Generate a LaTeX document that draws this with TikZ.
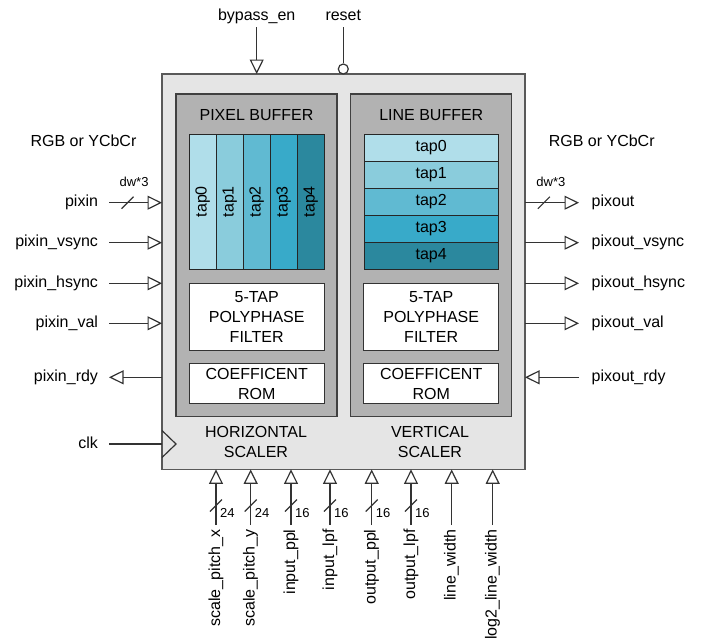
\documentclass[tikz,border=0pt]{standalone}
\usepackage{fontspec}
\setmainfont{Liberation Sans}
\usetikzlibrary{arrows.meta,positioning,calc}

\definecolor{tapzero}{RGB}{176,222,234}
\definecolor{tapone}{RGB}{138,204,220}
\definecolor{taptwo}{RGB}{96,186,210}
\definecolor{tapthree}{RGB}{56,170,201}
\definecolor{tapfour}{RGB}{43,136,158}

\begin{document}
\begin{tikzpicture}[
    x=1pt, y=-1pt,
    font=\fontsize{16}{20}\selectfont,
    outerbox/.style={rectangle, draw=black!65, line width=1.4pt, fill=black!10, minimum width=363pt, minimum height=395.4pt, outer sep=0pt},
    bufbox/.style={rectangle, draw=black!75, line width=1.2pt, fill=black!30, minimum width=161pt, minimum height=322.7pt},
    tapcell/.style={rectangle, draw=black!85, line width=0.8pt, minimum width=134.5pt, minimum height=27pt, inner sep=0pt},
    blk/.style={rectangle, draw=black!80, line width=1pt, fill=white, minimum width=134.7pt, align=center, inner sep=0pt},
    lbl/.style={inner sep=0pt, text height=11.5pt, text depth=3.5pt},
    lftlbl/.style={lbl, anchor=east, outer xsep=11pt},
    rgtlbl/.style={lbl, anchor=west, outer xsep=12.7pt},
    botlbl/.style={lbl, rotate=90, anchor=east, outer xsep=4.5pt},
    smlbl/.style={inner sep=0pt, font=\fontsize{13}{15}\selectfont},
    sig/.style={draw=black!80, line width=1.2pt},
    arr/.style={sig, -{Triangle[open, length=14.5pt, width=14pt]}}
]
\useasboundingbox (0,0) rectangle (701,640);

% Scaler block and its two halves
\node[outerbox] (core) at (343.5,271.7) {};
\node[bufbox] (hbuf) at (256.5,255.3) {};
\node[bufbox] (vbuf) at (431.3,255.3) {};
\node (hbuftitle) at (256.5,115) {PIXEL BUFFER};
\node (vbuftitle) at (431.3,115) {LINE BUFFER};

% Pixel buffer taps (columns)
\node[tapcell, rotate=90, fill=tapzero] (htap0) at (202.8,201.7) {tap0};
\node[tapcell, rotate=90, fill=tapone] (htap1) at (229.8,201.7) {tap1};
\node[tapcell, rotate=90, fill=taptwo] (htap2) at (256.8,201.7) {tap2};
\node[tapcell, rotate=90, fill=tapthree] (htap3) at (283.8,201.7) {tap3};
\node[tapcell, rotate=90, fill=tapfour] (htap4) at (310.8,201.7) {tap4};

% Line buffer taps (rows)
\node[tapcell, fill=tapzero] (vtap0) at (431.2,147.8) {tap0};
\node[tapcell, fill=tapone] (vtap1) at (431.2,174.8) {tap1};
\node[tapcell, fill=taptwo] (vtap2) at (431.2,201.8) {tap2};
\node[tapcell, fill=tapthree] (vtap3) at (431.2,228.8) {tap3};
\node[tapcell, fill=tapfour] (vtap4) at (431.2,255.8) {tap4};

% Filters and coefficient ROMs
\node[blk, minimum height=66.7pt] (hfilt) at (256.7,316.7) {5-TAP\\POLYPHASE\\FILTER};
\node[blk, minimum height=66.7pt] (vfilt) at (431.2,316.7) {5-TAP\\POLYPHASE\\FILTER};
\node[blk, minimum height=40.3pt] (hrom) at (256.7,383.8) {COEFFICENT\\ROM};
\node[blk, minimum height=40.3pt] (vrom) at (431.2,383.8) {COEFFICENT\\ROM};
\node[align=center] (hname) at (256,442) {HORIZONTAL\\SCALER};
\node[align=center] (vname) at (430,442) {VERTICAL\\SCALER};

% Top control inputs
\node[lbl, outer ysep=3pt] (bypass) at (256.7,16.5) {bypass\_en};
\node[lbl, outer ysep=3pt] (reset) at (343.3,16.5) {reset};
\node[circle, draw=black!80, line width=1.2pt, fill=white, minimum size=10pt, inner sep=0pt] (rstbub) at (343.3,69) {};
\draw[arr] (bypass.south) -- (bypass.south |- core.north);
\draw[sig] (reset.south) -- (rstbub.north);

% Input side
\node (inkind) at (83.5,140.7) {RGB or YCbCr};
\node[lftlbl] (pixin) at (109,202.7) {pixin};
\node[lftlbl] (pixinvs) at (109,242.7) {pixin\_vsync};
\node[lftlbl] (pixinhs) at (109,283.3) {pixin\_hsync};
\node[lftlbl] (pixinval) at (109,323.3) {pixin\_val};
\node[lftlbl] (pixinrdy) at (109,377.3) {pixin\_rdy};
\node[lftlbl] (clk) at (109,444) {clk};

\draw[arr] (pixin.east) -- (pixin.east -| core.west);
\draw[arr] (pixinvs.east) -- (pixinvs.east -| core.west);
\draw[arr] (pixinhs.east) -- (pixinhs.east -| core.west);
\draw[arr] (pixinval.east) -- (pixinval.east -| core.west);
\draw[arr] (pixinrdy.east -| core.west) -- (pixinrdy.east);
\draw[sig] (clk.east) -- (clk.east -| core.west);
\draw[sig] (clk.east -| core.west) ++(0,-13.5) -- ++(14,13.5) -- ++(-14,13.5);

\coordinate (pixinbus) at ($(pixin.east)!0.35!(pixin.east -| core.west)$);
\draw[sig] ($(pixinbus)+(-6,6)$) -- ($(pixinbus)+(6,-6)$);
\node[smlbl] (pixinw) at ($(pixinbus)+(6.5,-21)$) {dw*3};

% Output side
\node (outkind) at (601.7,140.7) {RGB or YCbCr};
\node[rgtlbl] (pixout) at (579,202.7) {pixout};
\node[rgtlbl] (pixoutvs) at (579,242.7) {pixout\_vsync};
\node[rgtlbl] (pixouths) at (579,283.3) {pixout\_hsync};
\node[rgtlbl] (pixoutval) at (579,323.3) {pixout\_val};
\node[rgtlbl] (pixoutrdy) at (579,377.3) {pixout\_rdy};

\draw[arr] (pixout.west -| core.east) -- (pixout.west);
\draw[arr] (pixoutvs.west -| core.east) -- (pixoutvs.west);
\draw[arr] (pixouths.west -| core.east) -- (pixouths.west);
\draw[arr] (pixoutval.west -| core.east) -- (pixoutval.west);
\draw[arr] (pixoutrdy.west) -- (pixoutrdy.west -| core.east);

\coordinate (pixoutbus) at ($(pixout.west -| core.east)!0.35!(pixout.west)$);
\draw[sig] ($(pixoutbus)+(-6,6)$) -- ($(pixoutbus)+(6,-6)$);
\node[smlbl] (pixoutw) at ($(pixoutbus)+(7,-21)$) {dw*3};

% Configuration inputs at the bottom
\node[botlbl] (spx) at (216,525) {scale\_pitch\_x};
\node[botlbl] (spy) at (250.7,525) {scale\_pitch\_y};
\node[botlbl] (ippl) at (291,525) {input\_ppl};
\node[botlbl] (ilpf) at (330,525) {input\_lpf};
\node[botlbl] (oppl) at (371.7,525) {output\_ppl};
\node[botlbl] (olpf) at (411,525) {output\_lpf};
\node[botlbl] (lw) at (451.7,525) {line\_width};
\node[botlbl] (llw) at (492.7,525) {log2\_line\_width};

\draw[arr] (spx.east) -- (spx.east |- core.south);
\draw[arr] (spy.east) -- (spy.east |- core.south);
\draw[arr] (ippl.east) -- (ippl.east |- core.south);
\draw[arr] (ilpf.east) -- (ilpf.east |- core.south);
\draw[arr] (oppl.east) -- (oppl.east |- core.south);
\draw[arr] (olpf.east) -- (olpf.east |- core.south);
\draw[arr] (lw.east) -- (lw.east |- core.south);
\draw[arr] (llw.east) -- (llw.east |- core.south);

\coordinate (spxbus) at ($(spx.east)!0.35!(spx.east |- core.south)$);
\coordinate (spybus) at ($(spy.east)!0.35!(spy.east |- core.south)$);
\coordinate (ipplbus) at ($(ippl.east)!0.35!(ippl.east |- core.south)$);
\coordinate (ilpfbus) at ($(ilpf.east)!0.35!(ilpf.east |- core.south)$);
\coordinate (opplbus) at ($(oppl.east)!0.35!(oppl.east |- core.south)$);
\coordinate (olpfbus) at ($(olpf.east)!0.35!(olpf.east |- core.south)$);
\draw[sig] ($(spxbus)+(-6,6)$) -- ($(spxbus)+(6,-6)$);
\draw[sig] ($(spybus)+(-6,6)$) -- ($(spybus)+(6,-6)$);
\draw[sig] ($(ipplbus)+(-6,6)$) -- ($(ipplbus)+(6,-6)$);
\draw[sig] ($(ilpfbus)+(-6,6)$) -- ($(ilpfbus)+(6,-6)$);
\draw[sig] ($(opplbus)+(-6,6)$) -- ($(opplbus)+(6,-6)$);
\draw[sig] ($(olpfbus)+(-6,6)$) -- ($(olpfbus)+(6,-6)$);
\node[smlbl, anchor=west] (spxw) at ($(spxbus)+(4,7.5)$) {24};
\node[smlbl, anchor=west] (spyw) at ($(spybus)+(4,7.5)$) {24};
\node[smlbl, anchor=west] (ipplw) at ($(ipplbus)+(4,7.5)$) {16};
\node[smlbl, anchor=west] (ilpfw) at ($(ilpfbus)+(4,7.5)$) {16};
\node[smlbl, anchor=west] (opplw) at ($(opplbus)+(4,7.5)$) {16};
\node[smlbl, anchor=west] (olpfw) at ($(olpfbus)+(4,7.5)$) {16};
\end{tikzpicture}
\end{document}
